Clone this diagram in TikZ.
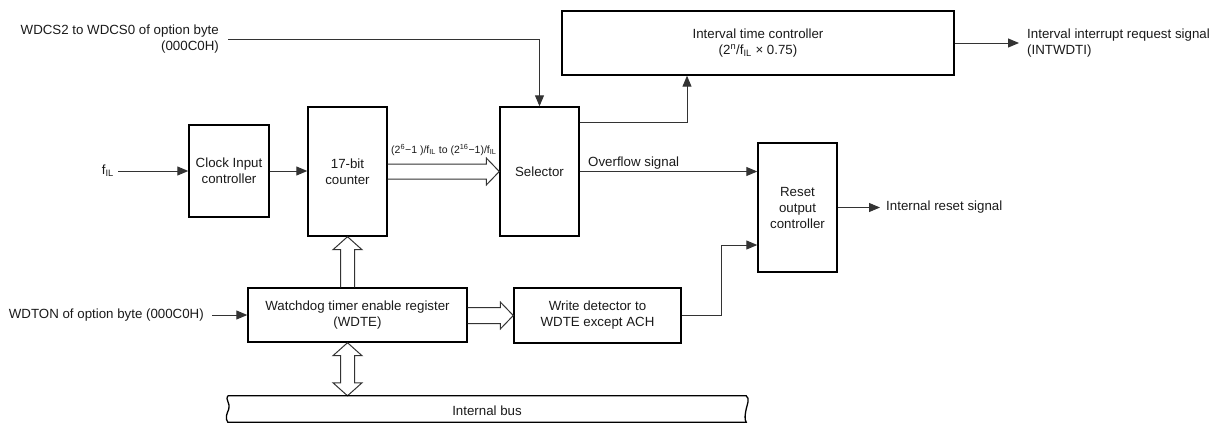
\documentclass[tikz,border=0pt]{standalone}
\usepackage{fontspec}
\setmainfont{Liberation Sans}
\usetikzlibrary{arrows.meta,calc}
\definecolor{wire}{HTML}{333333}
\definecolor{txt}{HTML}{1A1A1A}
\newcommand\mainfs{\fontsize{13.3}{16}\selectfont}
\newcommand\smallfs{\fontsize{10.5}{12}\selectfont}
\begin{document}
\begin{tikzpicture}[x=1pt,y=-1pt,
  box/.style={draw=black,line width=1.4pt,inner sep=0pt,align=center,text=txt,font=\mainfs},
  conn/.style={draw=wire,line width=1pt,-{Triangle[length=11pt,width=9pt]}},
  hollow/.style={draw=wire,line width=1pt,line join=miter},
  busline/.style={draw=black,line width=1.3pt},
  lbl/.style={inner sep=0pt,text=txt,font=\mainfs}]
\useasboundingbox (0,0) rectangle (1210,423);

% blocks
\node[box,minimum width=80pt,minimum height=92pt] (clk) at (229,171) {Clock Input\\controller};
\node[box,minimum width=79pt,minimum height=129pt] (cnt) at (347.5,171.5) {17-bit\\counter};
\node[box,minimum width=79pt,minimum height=129pt] (sel) at (539.5,171.5) {Selector};
\node[box,minimum width=392pt,minimum height=64pt] (itc) at (758,43) {Interval time controller\\(2\textsuperscript{n}/f\textsubscript{IL} × 0.75)};
\node[box,minimum width=79pt,minimum height=129pt] (rst) at (797.5,207.5) {Reset\\output\\controller};
\node[box,minimum width=219pt,minimum height=54pt] (wdte) at (357.5,315) {Watchdog timer enable register\\(WDTE)};
\node[box,minimum width=167pt,minimum height=55pt] (wdet) at (597.5,315.5) {Write detector to\\WDTE except ACH};
\node[lbl,minimum width=518pt,minimum height=26pt,text depth=0pt] (bus) at (487,409) {\raisebox{-3pt}{Internal bus}};

% labels
\node[lbl,anchor=east,align=right] (wdcs) at (219,39) {WDCS2 to WDCS0 of option byte\\(000C0H)};
\node[lbl,anchor=east] (fil) at (114,171) {f\textsubscript{IL}};
\node[lbl,anchor=east] (wdton) at (204,315) {WDTON of option byte (000C0H)};
\node[lbl,anchor=west,align=left] (intr) at (1027,43) {Interval interrupt request signal\\(INTWDTI)};
\node[lbl,anchor=west] (irs) at (886,207.5) {Internal reset signal};
\node[lbl,anchor=base west] (ovf) at (588,166) {Overflow signal};
\node[lbl,anchor=base west,font=\smallfs] (rate) at (391,153) {(2\textsuperscript{6}−1 )/f\textsubscript{IL} to (2\textsuperscript{16}−1)/f\textsubscript{IL}};

% signal connectors
\draw[conn] ([xshift=9pt]wdcs.east) -| (sel.north);
\draw[conn] ([xshift=4pt]fil.east) -- (clk.west);
\draw[conn] (clk.east) -- (clk.east -| cnt.west);
\draw[conn] ([xshift=8pt]wdton.east) -- (wdte.west);
\draw[conn] ($(sel.north east)+(0,16)$) -| ($(itc.south)+(-71,0)$);
\draw[conn] (itc.east) -- ($(intr.west|-itc.east)+(-8,0)$);
\draw[conn] (sel.east) -- (sel.east -| rst.west);
\draw[conn] (wdet.east) -- ++(40,0) |- ($(rst.west)+(0,37.5)$);
\draw[conn] (rst.east) -- ($(irs.west)+(-6,0)$);

% hollow (bus) arrows
\draw[hollow] ($(cnt.east)+(0,-7.5)$) -- ($(sel.west)+(-13,-7.5)$) -- ($(sel.west)+(-13,-13.5)$) -- (sel.west)
  -- ($(sel.west)+(-13,13.5)$) -- ($(sel.west)+(-13,7.5)$) -- ($(cnt.east)+(0,7.5)$);
\draw[hollow] ($(wdte.east|-wdet.west)+(0,-8)$) -- ($(wdet.west)+(-13,-8)$) -- ($(wdet.west)+(-13,-13.5)$) -- (wdet.west)
  -- ($(wdet.west)+(-13,13.5)$) -- ($(wdet.west)+(-13,8)$) -- ($(wdte.east|-wdet.west)+(0,8)$);
\draw[hollow] ($(cnt.south|-wdte.north)+(-7,0)$) -- ($(cnt.south)+(-7,13)$) -- ($(cnt.south)+(-14.5,13)$) -- (cnt.south)
  -- ($(cnt.south)+(14.5,13)$) -- ($(cnt.south)+(7,13)$) -- ($(cnt.south|-wdte.north)+(7,0)$);
\coordinate (T) at (cnt.south|-wdte.south);
\coordinate (B) at (cnt.south|-bus.north);
\draw[hollow] (T) -- ($(T)+(14.5,13)$) -- ($(T)+(7,13)$) -- ($(B)+(7,-13)$) -- ($(B)+(14.5,-13)$) -- (B)
  -- ($(B)+(-14.5,-13)$) -- ($(B)+(-7,-13)$) -- ($(T)+(-7,13)$) -- ($(T)+(-14.5,13)$) -- cycle;

% internal bus outline
\draw[busline] (bus.north west) -- (bus.north east)
  .. controls +(4,3) and +(1,-5) .. (bus.east)
  .. controls +(-1,5) and +(-2,-3) .. (bus.south east)
  -- (bus.south west)
  .. controls +(-3,-4) and +(-2,5) .. ($(bus.west)+(1,0)$)
  .. controls +(2,-5) and +(-3,3) .. (bus.north west);
\end{tikzpicture}
\end{document}
